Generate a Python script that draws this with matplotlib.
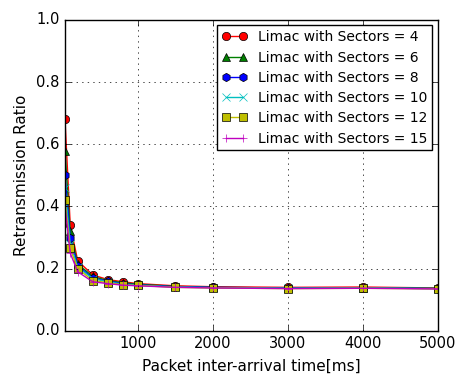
import numpy as np
import matplotlib
matplotlib.use('Agg')
import matplotlib.pyplot as plt

plt.style.use('classic')
plt.rcParams['font.size'] = 11
plt.rcParams['figure.facecolor'] = 'white'

# packet inter-arrival time [ms]
x = [30, 100, 200, 400, 600, 800, 1000, 1500, 2000, 3000, 4000, 5000]

r_s4 = [0.68, 0.34, 0.225, 0.18, 0.165, 0.158, 0.152, 0.145, 0.142, 0.140, 0.141, 0.138]
r_s6 = [0.58, 0.32, 0.215, 0.175, 0.162, 0.155, 0.150, 0.143, 0.140, 0.138, 0.139, 0.137]
r_s8 = [0.50, 0.30, 0.210, 0.170, 0.160, 0.152, 0.148, 0.142, 0.140, 0.138, 0.138, 0.136]
r_s10 = [0.46, 0.28, 0.205, 0.168, 0.158, 0.150, 0.147, 0.141, 0.139, 0.137, 0.138, 0.136]
r_s12 = [0.42, 0.265, 0.200, 0.162, 0.155, 0.148, 0.146, 0.140, 0.138, 0.136, 0.137, 0.135]
r_s15 = [0.40, 0.25, 0.190, 0.158, 0.152, 0.147, 0.145, 0.140, 0.138, 0.136, 0.137, 0.135]

fig = plt.figure(figsize=(4.56, 3.76), dpi=100)
ax = fig.add_axes([0.1425, 0.12, 0.818, 0.827])

ax.plot(x, r_s4, 'r-o', label='Limac with Sectors = 4')
ax.plot(x, r_s6, 'g-^', label='Limac with Sectors = 6')
ax.plot(x, r_s8, 'b-h', label='Limac with Sectors = 8')
ax.plot(x, r_s10, 'c-x', label='Limac with Sectors = 10')
ax.plot(x, r_s12, 'y-s', label='Limac with Sectors = 12')
ax.plot(x, r_s15, 'm-+', label='Limac with Sectors = 15')

ax.set_xlim(x[0], 5000)
ax.set_ylim(0.0, 1.0)
ax.set_xticks([1000, 2000, 3000, 4000, 5000])
ax.set_yticks(np.arange(0, 1.01, 0.2))
ax.tick_params(labelsize=10.5)
ax.grid(True)
ax.set_xlabel('Packet inter-arrival time[ms]', fontsize=11)
ax.set_ylabel('Retransmission Ratio', fontsize=11)
ax.legend(loc='upper right', fontsize=10, handlelength=1.8,
          borderpad=0.35, labelspacing=0.45, borderaxespad=0.4)

fig.savefig('out.png', dpi=100)
